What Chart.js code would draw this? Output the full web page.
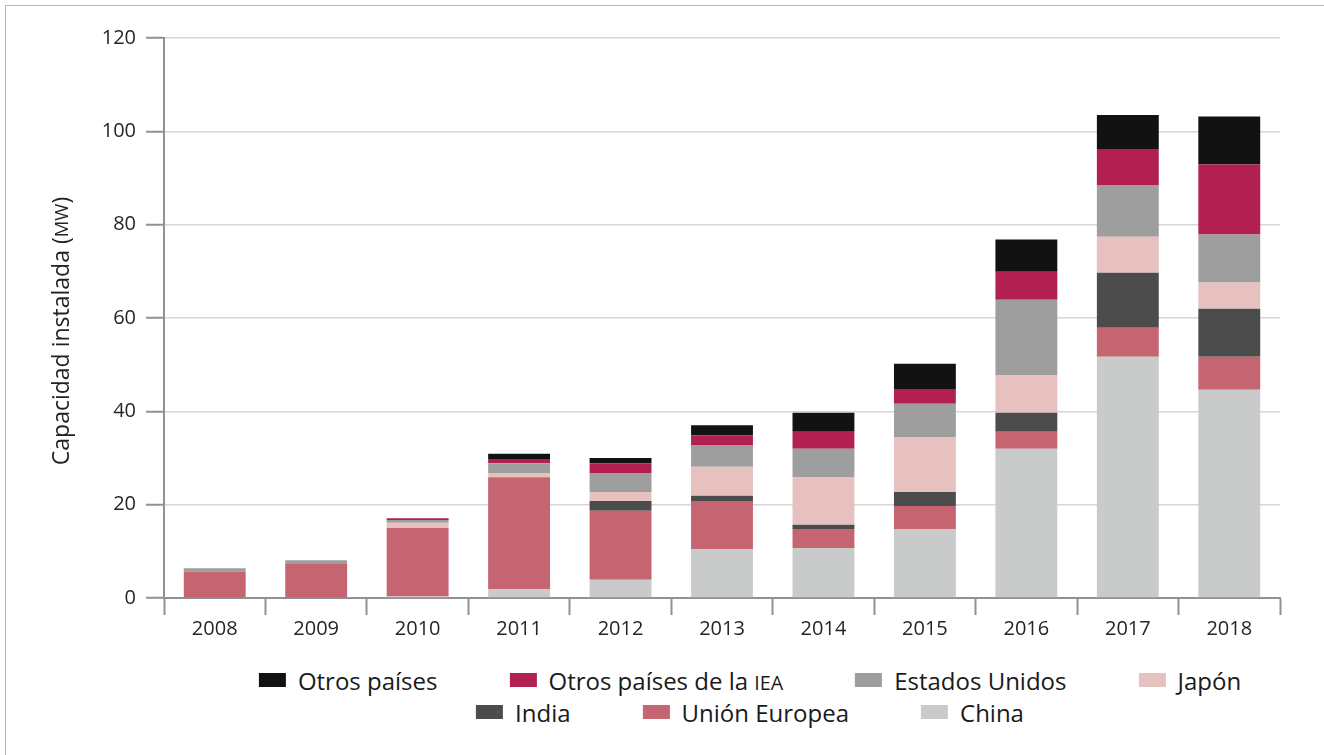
<!DOCTYPE html>
<html>
<head>
<meta charset="utf-8">
<script src="https://cdn.jsdelivr.net/npm/chart.js@4.4.0/dist/chart.umd.min.js"></script>
<style>
  html, body { margin: 0; padding: 0; background: #fff; }
  body { width: 1324px; height: 755px; position: relative; overflow: hidden; font-family: "Open Sans", sans-serif; }
  .frame { position: absolute; left: 5px; top: 5px; right: 0; bottom: 0; border-left: 1px solid #b4b4b4; border-top: 1px solid #b4b4b4; }
  .chart-box { position: absolute; left: 0; top: 0; width: 1324px; height: 650px; }
  #legend { position: absolute; left: 750px; top: 664px; transform: translateX(-50%); white-space: nowrap; }
  .legend-row { display: flex; justify-content: center; column-gap: 72px; height: 32px; align-items: center; }
  .legend-item { display: flex; align-items: center; font-size: 24px; color: #1a1a1a; }
  .legend-item .swatch { width: 27px; height: 14px; margin-right: 12px; }
  .sc { font-size: 0.82em; }
</style>
</head>
<body>
<div class="frame"></div>
<div class="chart-box"><canvas id="solarChart" width="1324" height="650"></canvas></div>
<div id="legend"></div>
<script>
    // Years on the x axis
    const years = ['2008', '2009', '2010', '2011', '2012', '2013', '2014', '2015', '2016', '2017', '2018'];

    // Installed capacity per region (stack order bottom -> top)
    const china       = [0, 0, 0.3, 1.9, 3.9, 10.5, 10.7, 14.8, 32.0, 51.7, 44.6];
    const unionEuropea = [5.6, 7.3, 14.7, 24.0, 14.8, 10.3, 4.1, 4.9, 3.6, 6.2, 7.1];
    const india       = [0, 0, 0, 0, 2.1, 1.1, 0.9, 3.0, 4.1, 11.8, 10.3];
    const japon       = [0, 0, 1.1, 0.9, 1.9, 6.2, 10.1, 11.8, 8.1, 7.7, 5.6];
    const estadosUnidos = [0.8, 0.8, 0.6, 2.1, 4.1, 4.7, 6.2, 7.1, 16.1, 11.1, 10.3];
    const otrosIEA    = [0, 0, 0.4, 0.9, 2.1, 2.1, 3.6, 3.0, 6.0, 7.7, 15.0];
    const otrosPaises = [0, 0, 0, 1.1, 1.1, 2.1, 4.1, 5.6, 6.9, 7.3, 10.3];

    const yTicks = [0, 20, 40, 60, 80, 100, 120];

    const datasets = [
        { label: 'China', data: china, backgroundColor: '#c9caca' },
        { label: 'Unión Europea', data: unionEuropea, backgroundColor: '#c46571' },
        { label: 'India', data: india, backgroundColor: '#4b4c4b' },
        { label: 'Japón', data: japon, backgroundColor: '#e6c1bf' },
        { label: 'Estados Unidos', data: estadosUnidos, backgroundColor: '#9d9e9d' },
        { label: 'Otros países de la IEA', data: otrosIEA, backgroundColor: '#b22052' },
        { label: 'Otros países', data: otrosPaises, backgroundColor: '#121212' },
    ];

    const axisColor = '#919191';
    const gridColor = '#d6d6d6';

    // y axis title with "MW" in small caps, drawn on the canvas
    const yTitlePlugin = {
        id: 'yTitle',
        afterDraw(chart) {
            const ctx = chart.ctx;
            const main = 'Capacidad instalada (';
            const small = 'MW';
            const tail = ')';
            ctx.save();
            ctx.fillStyle = '#222';
            ctx.textBaseline = 'middle';
            ctx.textAlign = 'left';
            ctx.font = '23px "Open Sans"';
            const w1 = ctx.measureText(main).width;
            const w3 = ctx.measureText(tail).width;
            ctx.font = '18.5px "Open Sans"';
            const w2 = ctx.measureText(small).width;
            const total = w1 + w2 + w3;
            ctx.translate(62, 331);
            ctx.rotate(-Math.PI / 2);
            let x = -total / 2;
            ctx.font = '23px "Open Sans"';
            ctx.fillText(main, x, 0);
            x += w1;
            ctx.font = '18.5px "Open Sans"';
            ctx.fillText(small, x, 1);
            x += w2;
            ctx.font = '23px "Open Sans"';
            ctx.fillText(tail, x, 0);
            ctx.restore();
        }
    };

    const ctx = document.getElementById('solarChart').getContext('2d');
    const chart = new Chart(ctx, {
        type: 'bar',
        data: { labels: years, datasets: datasets },
        options: {
            responsive: false,
            animation: false,
            layout: { padding: { left: 0, right: 44, top: 38, bottom: 0 } },
            datasets: {
                bar: { categoryPercentage: 1, barPercentage: 0.61, borderWidth: 0 }
            },
            plugins: {
                legend: { display: false },
                tooltip: { enabled: false },
            },
            scales: {
                x: {
                    stacked: true,
                    afterFit: (scale) => { scale.height = 52; },
                    grid: {
                        offset: true,
                        drawOnChartArea: false,
                        drawTicks: true,
                        tickLength: 17,
                        tickColor: axisColor,
                        tickWidth: 2,
                    },
                    border: { color: axisColor, width: 2 },
                    ticks: {
                        color: '#262626',
                        padding: 2,
                        font: { family: 'Open Sans', size: 20 },
                    },
                },
                y: {
                    stacked: true,
                    min: 0,
                    max: 120,
                    afterFit: (scale) => { scale.width = 164; },
                    afterBuildTicks: (scale) => { scale.ticks = yTicks.map(v => ({ value: v })); },
                    grid: {
                        color: gridColor,
                        lineWidth: 1.5,
                        tickLength: 18,
                        tickColor: axisColor,
                        tickWidth: 2,
                    },
                    border: { color: axisColor, width: 2 },
                    ticks: {
                        color: '#262626',
                        padding: 10,
                        font: { family: 'Open Sans', size: 20 },
                    },
                },
            },
        },
        plugins: [yTitlePlugin],
    });

    // HTML legend: top of the stack first, four items on the first row
    const legendEl = document.getElementById('legend');
    const legendItems = datasets.slice().reverse();
    const rows = [legendItems.slice(0, 4), legendItems.slice(4)];
    rows.forEach((row) => {
        const rowEl = document.createElement('div');
        rowEl.className = 'legend-row';
        row.forEach((ds) => {
            const item = document.createElement('div');
            item.className = 'legend-item';
            const swatch = document.createElement('span');
            swatch.className = 'swatch';
            swatch.style.background = ds.backgroundColor;
            const text = document.createElement('span');
            if (ds.label.endsWith('IEA')) {
                text.innerHTML = ds.label.replace('IEA', '<span class="sc">IEA</span>');
            } else {
                text.textContent = ds.label;
            }
            item.appendChild(swatch);
            item.appendChild(text);
            rowEl.appendChild(item);
        });
        legendEl.appendChild(rowEl);
    });
</script>
</body>
</html>
